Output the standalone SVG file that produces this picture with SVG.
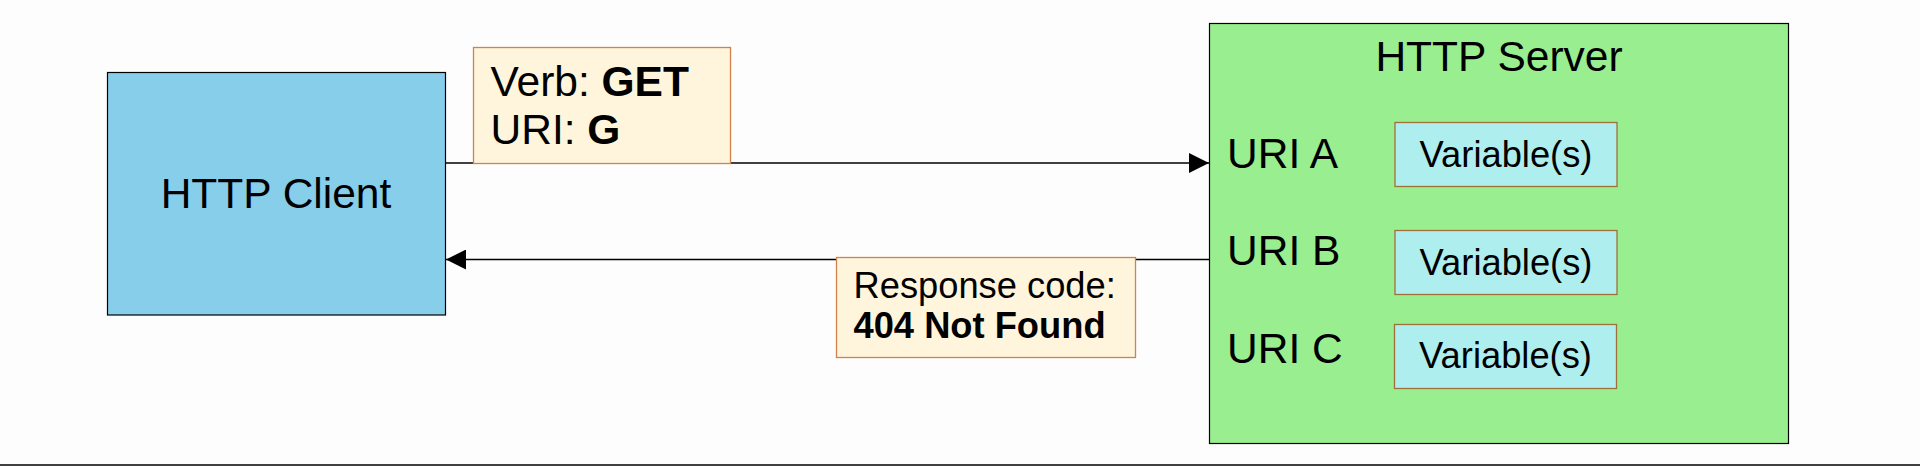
<svg xmlns="http://www.w3.org/2000/svg" width="1920" height="466" viewBox="0 0 1920 466">
<style>
  text { font-family: "Liberation Sans", Arial, sans-serif; fill: #000; }
  .big { font-size: 42.5px; }
  .mid { font-size: 36.3px; }
  .b { font-weight: bold; }
  .label { fill: #FFF5DC; stroke: #D3814B; stroke-width: 1.3; }
  .var { fill: #AFEEEE; stroke: #A0703A; stroke-width: 1.3; }
  .conn { stroke: #000; stroke-width: 1.3; fill: none; }
</style>
<defs>
  <marker id="arrow" markerUnits="userSpaceOnUse" markerWidth="20" markerHeight="20" refX="20" refY="10" orient="auto">
    <path d="M0,0 L20,10 L0,20 Z" fill="#000"/>
  </marker>
</defs>
<rect x="0" y="0" width="1920" height="466" fill="#FDFDFD"/>
<line x1="0" y1="465" x2="1920" y2="465" stroke="#000" stroke-width="1.6"/>

<g id="client">
  <rect x="107.5" y="72.5" width="338" height="242.5" fill="#87CEEB" stroke="#000" stroke-width="1.2"/>
  <text class="big" x="276" y="208" text-anchor="middle">HTTP Client</text>
</g>

<g id="server">
  <rect x="1209.5" y="23.5" width="579" height="420" fill="#99EE90" stroke="#000" stroke-width="1.2"/>
  <text class="big" x="1499" y="71" text-anchor="middle">HTTP Server</text>
</g>

<g id="connectors">
  <line class="conn" x1="446" y1="163" x2="1209" y2="163" marker-end="url(#arrow)"/>
  <line class="conn" x1="1209" y1="259.5" x2="446" y2="259.5" marker-end="url(#arrow)"/>
</g>

<g id="request-label">
  <rect class="label" x="473.5" y="47.5" width="257" height="116"/>
  <text class="big" x="490.5" y="96">Verb: <tspan class="b">GET</tspan></text>
  <text class="big" x="490.5" y="144">URI: <tspan class="b">G</tspan></text>
</g>

<g id="response-label">
  <rect class="label" x="836.5" y="257.5" width="299" height="100"/>
  <text class="mid" x="853.5" y="297.5">Response code:</text>
  <text class="mid b" x="853.5" y="337.5">404 Not Found</text>
</g>

<g id="uri-a">
  <text class="big" x="1227" y="168">URI A</text>
  <rect class="var" x="1395" y="122.5" width="222" height="64"/>
  <text class="mid" x="1506" y="167" text-anchor="middle">Variable(s)</text>
</g>

<g id="uri-b">
  <text class="big" x="1227" y="265">URI B</text>
  <rect class="var" x="1395" y="230.5" width="222" height="64"/>
  <text class="mid" x="1506" y="274.5" text-anchor="middle">Variable(s)</text>
</g>

<g id="uri-c">
  <text class="big" x="1227" y="362.5">URI C</text>
  <rect class="var" x="1394.5" y="324.5" width="222" height="64"/>
  <text class="mid" x="1505.5" y="368" text-anchor="middle">Variable(s)</text>
</g>
</svg>
